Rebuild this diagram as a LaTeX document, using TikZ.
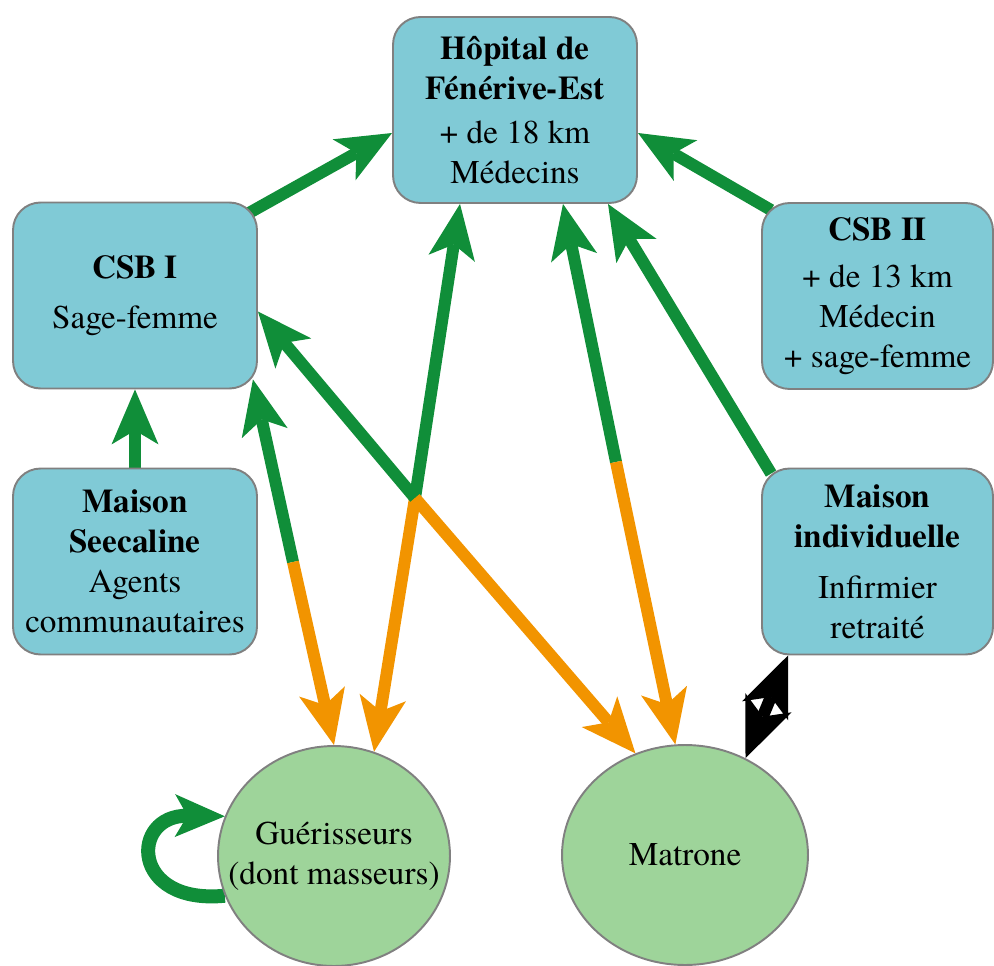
\documentclass[tikz,border=0pt]{standalone}
\usepackage{fontspec}
\setmainfont{texgyretermes}[Extension=.otf, UprightFont=*-regular, BoldFont=*-bold]
\usetikzlibrary{arrows.meta,shapes.geometric,backgrounds}

\definecolor{boxblue}{RGB}{128,202,214}
\definecolor{actgreen}{RGB}{158,212,154}
\definecolor{linkgreen}{RGB}{16,142,57}
\definecolor{linkorange}{RGB}{242,148,0}

\tikzset{
    lieu/.style={draw=gray, line width=1.1pt, fill=boxblue, rounded corners=0.55cm,
        minimum width=4.88cm, minimum height=3.72cm, align=center, inner sep=2pt,
        font=\fontsize{18.9}{22.8}\selectfont},
    acteur/.style={ellipse, draw=gray, line width=1.1pt, fill=actgreen,
        minimum width=4.64cm, minimum height=4.4cm, align=center, inner sep=-0.6cm,
        font=\fontsize{18.9}{22.8}\selectfont},
    lien/.style={line width=0.24cm,
        -{Stealth[length=1.1cm,width=0.94cm,inset=0.28cm,line width=0pt]}}
}

\begin{document}
\begin{tikzpicture}[x=0.02cm, y=-0.02cm]
        \useasboundingbox (0,0) rectangle (994,966);

        % lieux
        \node[lieu] (hop) at (515,110) {\textbf{Hôpital de}\\\textbf{Fénérive-Est}\\[2pt]+ de 18 km\\Médecins};
        \node[lieu] (csbi) at (135,295.5) {\textbf{CSB I}\\[6pt]Sage-femme};
        \node[lieu, minimum width=4.62cm] (csbii) at (877.5,296) {\textbf{CSB II}\\[4pt]+ de 13 km\\Médecin\\+ sage-femme};
        \node[lieu] (seec) at (135,561.5) {\textbf{Maison}\\\textbf{Seecaline}\\Agents\\communautaires};
        \node[lieu, minimum width=4.62cm] (indiv) at (877.5,561.5) {\textbf{Maison}\\\textbf{individuelle}\\[6pt]Infirmier\\retraité};

        % acteurs
        \node[acteur] (guer) at (334,856) {Guérisseurs\\(dont masseurs)};
        \node[acteur, minimum width=4.92cm] (mat) at (685,855) {Matrone};

        % points de changement de couleur
        \coordinate (gc) at (293,562);
        \coordinate (x) at (415,498);
        \coordinate (mc) at (616,462);

        \begin{scope}[on background layer]
            \draw[lien, linkgreen] ([shift={(-10,12)}]csbi.north east) -- ([shift={(0,23)}]hop.west);
            \draw[lien, linkgreen] ([shift={(10,8)}]csbii.north west) -- ([shift={(0,23)}]hop.east);
            \draw[lien, linkgreen] (seec.north) -- (csbi.south);
            \draw[lien, linkgreen] ([shift={(10,6)}]indiv.north west) -- ([shift={(93,0)}]hop.south);

            \draw[lien, linkgreen] (gc) -- ([shift={(-5,-10)}]csbi.south east);
            \draw[lien, linkorange] (gc) -- (guer.north);

            \draw[lien, linkgreen] (x) -- ([shift={(-55,0)}]hop.south);
            \draw[lien, linkorange] (x) -- (guer.69);
            \draw[lien, linkgreen] (x) -- ([shift={(0,16)}]csbi.east);
            \draw[lien, linkorange] (x) -- (mat.116);

            \draw[lien, linkgreen] (mc) -- ([shift={(48,0)}]hop.south);
            \draw[lien, linkorange] (mc) -- (mat.95);

            \draw[linkgreen, line width=0.28cm, -{Stealth[length=1cm,width=0.86cm,inset=0.25cm,line width=0pt]}]
                (guer.200) .. controls (130,905) and (130,815) .. (guer.160);

            \draw[black, line width=0.24cm,
                {Stealth[length=1.2cm,width=1cm,inset=0.3cm,line width=0pt]}-{Stealth[length=1.2cm,width=1cm,inset=0.3cm,line width=0pt]}]
                (mat.58) -- ([shift={(27,0)}]indiv.south west);
        \end{scope}
\end{tikzpicture}
\end{document}
